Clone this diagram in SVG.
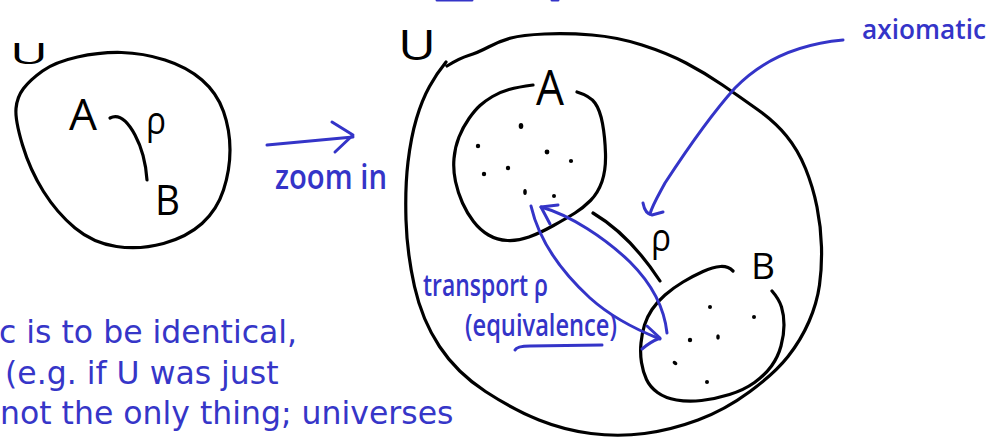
<svg xmlns="http://www.w3.org/2000/svg" width="1006" height="442" viewBox="0 0 1006 442">
<style>
.ink{fill:none;stroke:#000;stroke-width:3.2;stroke-linecap:round;stroke-linejoin:round}
.blue{fill:none;stroke:#3434c8;stroke-width:3;stroke-linecap:round;stroke-linejoin:round}
.hb{font-family:"Open Sans","Liberation Sans",sans-serif;fill:#000}
.hu{font-family:"Open Sans","Liberation Sans",sans-serif;font-weight:600;fill:#3434c8}
.typed{font-family:"DejaVu Sans",sans-serif;font-size:31.5px;fill:#3636c8}
.dot{fill:#000}
</style>
<rect width="1006" height="442" fill="#fff"/>

<g id="top-fragment">
<path class="blue" d="M437,0 L472,0" stroke-width="3"/>
<path class="blue" d="M552,0 L558,0" stroke-width="2"/>
</g>

<g id="universe-left">
<path class="ink" d="M42.5,71 Q55,62 77.5,57 Q100,52 121.5,52.5 Q143,53 165,60 Q187,67 202,80 Q217,93 223.5,111.5 Q230,130 230,150 Q230,170 223.5,190 Q217,210 202,223.5 Q187,237 163.5,243.5 Q140,250 116.5,246.5 Q93,243 75,228 Q57,213 43.5,191.5 Q30,170 22.5,145 Q15,120 16,108.5 Q17,97 23.5,88.5 Q30,80 42.5,71 Z"/>
<text class="hb" x="10" y="64" font-size="30" textLength="38" lengthAdjust="spacingAndGlyphs">U</text>
<text class="hb" x="69" y="130" font-size="44" textLength="28" lengthAdjust="spacingAndGlyphs">A</text>
<text class="hb" x="155" y="215" font-size="42" textLength="25" lengthAdjust="spacingAndGlyphs">B</text>
<path class="ink" d="M110,118 C120,113 128,122 135,135 S146,165 147,180"/>
<text class="hb" x="146" y="134" font-size="38" textLength="20" lengthAdjust="spacingAndGlyphs">ρ</text>
</g>

<g id="universe-right">
<path class="ink" d="M447,66 Q460,58 468.5,55.5 Q477,53 488.5,47 Q500,41 511,38 Q522,35 544.5,34 Q567,33 592,35 Q617,37 642,45 Q667,53 686,63 Q705,73 722.5,85 Q740,97 757.5,109.5 Q775,122 786.5,136 Q798,150 805.5,168.5 Q813,187 817,207 Q821,227 821.5,247 Q822,267 819.5,285 Q817,303 809,321.5 Q801,340 788,356.5 Q775,373 750,391.5 Q725,410 698,420 Q671,430 644.5,433.5 Q618,437 591,433.5 Q564,430 539,420 Q514,410 485.5,391.5 Q457,373 439.5,346.5 Q422,320 414.5,286.5 Q407,253 406,220 Q405,187 408,162 Q411,137 416.5,118.5 Q422,100 429.5,86.5 Q437,73 446,62"/>
<text class="hb" x="398" y="60" font-size="42" textLength="38" lengthAdjust="spacingAndGlyphs">U</text>
</g>

<g id="set-A">
<path class="ink" d="M533,85 Q518,87 509,89.5 Q500,92 492.5,96.5 Q485,101 480,105.5 Q475,110 469,118.5 Q463,127 459,137 Q455,147 454,158.5 Q453,170 455.5,181.5 Q458,193 462.5,203 Q467,213 473.5,221.5 Q480,230 488.5,235 Q497,240 507.5,240.5 Q518,241 529,237 Q540,233 553.5,225.5 Q567,218 575,213 Q583,208 590.5,200.5 Q598,193 602,181.5 Q606,170 605.5,153.5 Q605,137 602.5,123.5 Q600,110 595,103 Q590,96 577,92"/>
<text class="hb" x="536" y="105" font-size="50" textLength="28" lengthAdjust="spacingAndGlyphs">A</text>
<ellipse class="dot" cx="521" cy="126" rx="2.3" ry="3"/>
<circle class="dot" cx="478" cy="146" r="2.2"/>
<circle class="dot" cx="547" cy="152" r="2.4"/>
<circle class="dot" cx="571" cy="161" r="2.1"/>
<circle class="dot" cx="508" cy="168" r="2.2"/>
<circle class="dot" cx="484" cy="174" r="2.2"/>
<ellipse class="dot" cx="525" cy="192" rx="1.8" ry="3"/>
<circle class="dot" cx="554" cy="196" r="2"/>
</g>

<g id="set-B">
<path class="ink" d="M733,271 Q728,266 720.5,266.5 Q713,267 703,271.5 Q693,276 683,282 Q673,288 665,295 Q657,302 652,309.5 Q647,317 644.5,325 Q642,333 641,343 Q640,353 641.5,362.5 Q643,372 646.5,379.5 Q650,387 657.5,392.5 Q665,398 676.5,400 Q688,402 701.5,400.5 Q715,399 729.5,394.5 Q744,390 754.5,382.5 Q765,375 771.5,366 Q778,357 781,346 Q784,335 784,325 Q784,315 781.5,307 Q779,299 772,291"/>
<text class="hb" x="751" y="279" font-size="36" textLength="24" lengthAdjust="spacingAndGlyphs">B</text>
<circle class="dot" cx="710" cy="307" r="2"/>
<circle class="dot" cx="754" cy="317" r="2"/>
<ellipse class="dot" cx="718" cy="337" rx="1.8" ry="2.8"/>
<circle class="dot" cx="690" cy="340" r="2.2"/>
<ellipse class="dot" cx="675" cy="363" rx="2.6" ry="1.8" transform="rotate(35 675 363)"/>
<circle class="dot" cx="707" cy="382" r="2"/>
</g>

<g id="relation-rho">
<path class="ink" d="M593,213 Q630,235 660,281"/>
<text class="hb" x="651" y="251" font-size="38" textLength="20" lengthAdjust="spacingAndGlyphs">ρ</text>
</g>

<g id="labels">
<text class="hu" x="275" y="189" font-size="34" textLength="112" lengthAdjust="spacingAndGlyphs">zoom in</text>
<text class="hu" x="862" y="39" font-size="27" textLength="124" lengthAdjust="spacingAndGlyphs">axiomatic</text>
<text class="hu" x="423" y="296" font-size="30" textLength="125" lengthAdjust="spacingAndGlyphs">transport ρ</text>
<text class="hu" x="465" y="336" font-size="30" textLength="152" lengthAdjust="spacingAndGlyphs">(equivalence)</text>
<path class="blue" d="M515,350 Q517,346 530,346 L602,345"/>
</g>

<g id="connectors">
<path class="blue" d="M267,145 L353,137"/>
<path class="blue" d="M332,122 L353,135 L335,152"/>
<path class="blue" d="M843,40 C800,44 762,60 735,88 C708,118 680,160 665,183 C658,196 652,206 650,214"/>
<path class="blue" d="M643,203 Q645,214 652,215 L663,212"/>
<path class="blue" d="M531,206 C540,245 565,275 590,298 C610,316 632,328 660,339"/>
<path class="blue" d="M647,326 L660,338 Q650,342 642,349"/>
<path class="blue" d="M667,333 C664,305 650,282 630,262 C605,238 570,215 541,207"/>
<path class="blue" d="M558,205 L541,207 L550,224"/>
</g>

<g id="note">
<text class="typed" x="-1" y="343">c is to be identical,</text>
<text class="typed" x="5" y="384">(e.g. if U was just</text>
<text class="typed" x="0" y="424">not the only thing; universes</text>
</g>
</svg>
